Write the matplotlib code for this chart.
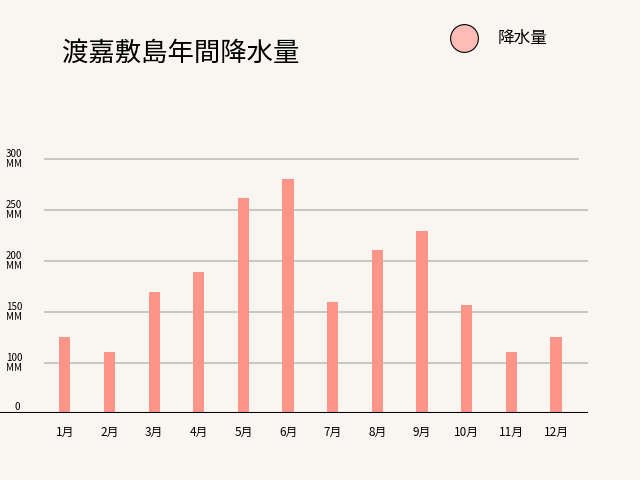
import matplotlib.pyplot as plt
from matplotlib.lines import Line2D
import matplotlib.transforms as mtransforms

plt.rcParams['font.family'] = ['Noto Sans CJK JP', 'DejaVu Sans']

months = ['1月', '2月', '3月', '4月', '5月', '6月', '7月', '8月', '9月', '10月', '11月', '12月']
rain = [125, 110, 169, 189, 262, 281, 160, 211, 229, 157, 110, 125]
grid_vals = [100, 150, 200, 250, 300]
ytick_vals = [50, 100, 150, 200, 250, 300]
ytick_labels = ['0', '100\nMM', '150\nMM', '200\nMM', '250\nMM', '300\nMM']

bg = '#f9f6f1'
bar_color = '#ff9488'

fig = plt.figure(figsize=(6.4, 4.8), dpi=100, facecolor=bg)
ax = fig.add_axes([0, 0.1389, 0.91875, 0.5694], facecolor=bg)

x = list(range(len(months)))
ax.bar(x, rain, width=0.25, color=bar_color, zorder=3)

ax.set_xlim(-1.451, 11.717)
ax.set_ylim(50, 319)

# gridlines
for v in grid_vals:
    xmax = 578 / 588 if v == 300 else 1.0
    ax.axhline(v, xmin=45 / 588, xmax=xmax, color='#c4c2bf', lw=1.3, zorder=1)
ax.axhline(50, color='black', lw=2.2, zorder=4)

for s in ax.spines.values():
    s.set_visible(False)
ax.set_yticks([])
ax.set_xticks(x)
ax.set_xticklabels(months, fontsize=8.5)
ax.tick_params(axis='x', length=0, pad=9)

trans = mtransforms.blended_transform_factory(fig.transFigure, ax.transData)
for v, lab in zip(ytick_vals, ytick_labels):
    if v == 50:
        ax.text(17 / 640, v + 6, lab, transform=trans, fontsize=7,
                ha='center', va='center', linespacing=1.0)
    else:
        ax.text(14 / 640, v, lab, transform=trans, fontsize=7,
                ha='center', va='center', linespacing=1.0)

fig.text(62 / 640, 1 - 53 / 480, '渡嘉敷島年間降水量', fontsize=19,
         ha='left', va='center')

# legend
fig.add_artist(Line2D([464 / 640], [1 - 38 / 480], marker='o', ms=20,
                      mfc='#ffbbb5', mec='black', mew=0.8, ls='none',
                      transform=fig.transFigure))
fig.text(498 / 640, 1 - 38 / 480, '降水量', fontsize=12, ha='left', va='center')

fig.savefig('out.png', dpi=100, facecolor=bg)
